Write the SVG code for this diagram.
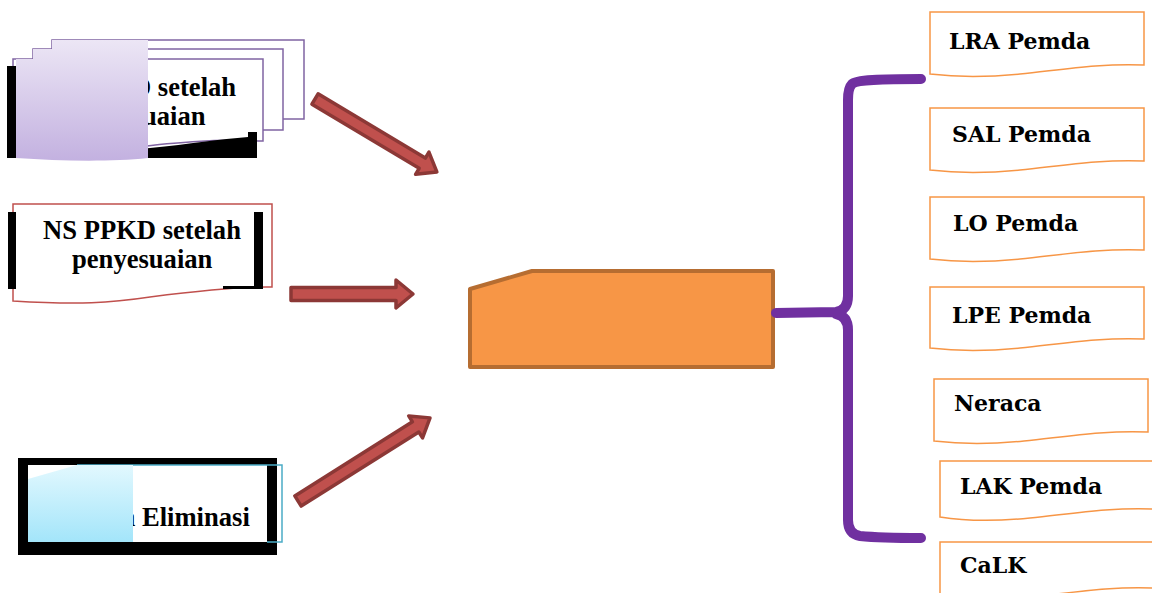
<svg xmlns="http://www.w3.org/2000/svg" width="1152" height="593" viewBox="0 0 1152 593">
<defs>
<linearGradient id="gPurple" x1="0" y1="0" x2="0" y2="1"><stop offset="0" stop-color="#ECE6F5"/><stop offset="1" stop-color="#C3B1E0"/></linearGradient>
<linearGradient id="gCyan" x1="0" y1="0" x2="0" y2="1"><stop offset="0" stop-color="#E2F8FE"/><stop offset="1" stop-color="#A3E5FA"/></linearGradient>
<style>
.lt{font-family:"Liberation Serif","Times New Roman",serif;font-weight:bold;font-size:26.6px;fill:#000}
.rt{font-family:"DejaVu Serif",serif;font-weight:bold;font-size:22px;fill:#000}
.pdoc{fill:#fff;stroke:#8064A2;stroke-width:1.5}
.odoc{fill:#fff;stroke:#F79646;stroke-width:1.5}
.arr{fill:#C0504D;stroke:#8C3836;stroke-width:3.5;stroke-linejoin:round}
</style>
</defs>
<rect width="1152" height="593" fill="#fff"/>

<g id="node-stack">
<path class="pdoc" d="M52,40 H304 V119 H52 Z"/>
<path class="pdoc" d="M33,49 H283 V130 H33 Z"/>
<path class="pdoc" d="M13,59 H263 V141 C200,138 150,146 110,150 C70,154 40,152 13,150 Z"/>
<rect x="7" y="66" width="9" height="92" fill="#000"/>
<rect x="248" y="132" width="9" height="26" fill="#000"/>
<path d="M16,158 L16,150 C60,154 100,152 150,148 C190,144 220,139 248,137 L257,132 V158 Z" fill="#000"/>
<text class="lt" x="132" y="96">D setelah</text>
<text class="lt" x="142" y="125">uaian</text>
<path d="M16,59 H33 V49 H52 V40 H148 V158 C110,162 60,161 16,158 Z" fill="url(#gPurple)"/>
</g>

<g id="node-ns">
<path d="M13,204 H272 V287 C240,286 190,292 150,297 C110,303 80,305 13,301 Z" fill="#fff" stroke="#C0504D" stroke-width="1.5"/>
<rect x="8" y="212" width="8" height="77" fill="#000"/>
<rect x="254" y="212" width="9" height="77" fill="#000"/>
<rect x="223" y="286" width="40" height="3" fill="#000"/>
<text class="lt" x="43" y="239">NS PPKD setelah</text>
<text class="lt" x="72" y="268">penyesuaian</text>
</g>

<g id="node-elim">
<rect x="18" y="458" width="259" height="97" fill="#000"/>
<rect x="28" y="465" width="239" height="77" fill="#fff"/>
<path d="M77,465 H282 V542 H267" fill="none" stroke="#4BACC6" stroke-width="1.5"/>
<text class="lt" x="122" y="526">a Eliminasi</text>
<path d="M28,479 L77,465 H133 V542 H28 Z" fill="url(#gCyan)"/>
</g>

<g id="node-center">
<path d="M470,289 L532,271 H773 V367 H470 Z" fill="#F79646" stroke="#B66D31" stroke-width="4" stroke-linejoin="round"/>
</g>

<g id="node-lra"><path class="odoc" d="M930,12 H1144 V65 C1100,63 1060,70 1020,74 C980,78 955,77 930,74 Z"/><text class="rt" x="949" y="49">LRA Pemda</text></g>
<g id="node-sal"><path class="odoc" d="M930,108 H1144 V161 C1100,159 1060,166 1020,170 C980,174 955,173 930,170 Z"/><text class="rt" x="952" y="142">SAL Pemda</text></g>
<g id="node-lo"><path class="odoc" d="M930,197 H1144 V250 C1100,248 1060,255 1020,259 C980,263 955,262 930,259 Z"/><text class="rt" x="953" y="231">LO Pemda</text></g>
<g id="node-lpe"><path class="odoc" d="M930,287 H1144 V339 C1100,337 1060,344 1020,348 C980,352 955,351 930,348 Z"/><text class="rt" x="952" y="323">LPE Pemda</text></g>
<g id="node-neraca"><path class="odoc" d="M934,379 H1148 V432 C1104,430 1064,437 1024,441 C984,445 959,444 934,441 Z"/><text class="rt" x="954" y="411">Neraca</text></g>
<g id="node-lak"><path class="odoc" d="M940,461 H1154 V509 C1110,507 1070,514 1030,518 C990,522 965,521 940,517 Z"/><text class="rt" x="960" y="494">LAK Pemda</text></g>
<g id="node-calk"><path class="odoc" d="M940,542 H1154 V588 C1110,586 1070,593 1030,597 C990,601 965,600 940,597 Z"/><text class="rt" x="960" y="573">CaLK</text></g>

<g id="connectors">
<path class="arr" transform="translate(315,99) rotate(30.9)" d="M0,-6 H125 V-13 L142,0 L125,13 V6 H0 Z"/>
<path class="arr" transform="translate(291,294)" d="M0,-6.5 H105 V-14 L122,0 L105,14 V6.5 H0 Z"/>
<path class="arr" transform="translate(298,501) rotate(-32.2)" d="M0,-6 H139 V-13 L156,0 L139,13 V6 H0 Z"/>
<path d="M921,79 C880,79 856,80 852,84 Q848,88 848,100 L848,296 Q848,310 836,312 L776,313 M836,314 Q848,316 848,330 L848,520 Q848,534 860,536 C880,538 900,538 921,538" fill="none" stroke="#7030A0" stroke-width="10" stroke-linecap="round" stroke-linejoin="round"/>
</g>
</svg>
